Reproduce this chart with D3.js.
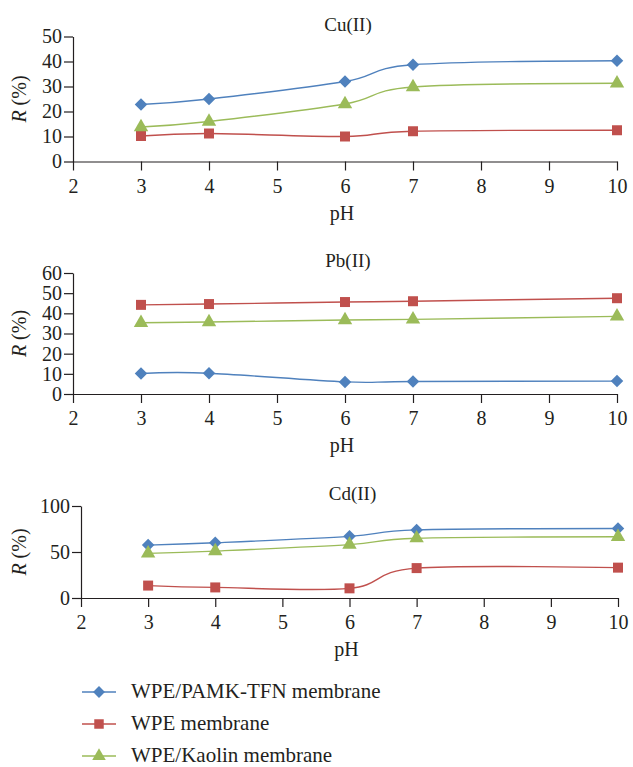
<!DOCTYPE html>
<html>
<head>
<meta charset="utf-8">
<script src="https://cdn.jsdelivr.net/npm/d3@7"></script>
<style>
  body { margin: 0; background: #fff; }
</style>
</head>
<body>
<div id="chart"></div>
<script>
// pH values (shared x)
const ph = [3, 4, 6, 7, 10];
const xTicks = [2, 3, 4, 5, 6, 7, 8, 9, 10];

// series names
const seriesNames = ['WPE/PAMK-TFN membrane', 'WPE membrane', 'WPE/Kaolin membrane'];

// Cu(II)
const cuTfn = [22.8, 25.0, 32.0, 38.7, 40.3];
const cuWpe = [10.2, 11.2, 10.0, 12.1, 12.5];
const cuKaolin = [13.8, 16.0, 23.0, 29.8, 31.3];

// Pb(II)
const pbTfn = [10.2, 10.3, 6.0, 6.2, 6.4];
const pbWpe = [44.2, 44.6, 45.6, 46.0, 47.5];
const pbKaolin = [35.3, 35.7, 36.7, 37.0, 38.5];

// Cd(II)
const cdTfn = [57.5, 60.0, 67.0, 74.0, 75.5];
const cdWpe = [13.5, 11.5, 10.5, 32.5, 33.0];
const cdKaolin = [48.5, 51.0, 58.0, 65.0, 66.5];

const colors = ['#4f81bd', '#c0504d', '#9bbb59'];
const shapes = [d3.symbolDiamond2, d3.symbolSquare, d3.symbolTriangle];
const font = '"Liberation Serif", "Times New Roman", "DejaVu Serif", serif';
const ink = '#231f20';

const width = 633, height = 767;
const svg = d3.select('#chart').append('svg')
    .attr('width', width)
    .attr('height', height)
    .attr('font-family', font);

const panels = [
  {title: 'Cu(II)', series: [cuTfn, cuWpe, cuKaolin], yMax: 50, yStep: 10, left: 73, right: 617, top: 36.5, bottom: 161.5},
  {title: 'Pb(II)', series: [pbTfn, pbWpe, pbKaolin], yMax: 60, yStep: 10, left: 73, right: 617, top: 273, bottom: 394},
  {title: 'Cd(II)', series: [cdTfn, cdWpe, cdKaolin], yMax: 100, yStep: 50, left: 81, right: 618, top: 506, bottom: 598}
];

panels.forEach(p => {
  const x = d3.scaleLinear().domain([2, 10]).range([p.left, p.right]);
  const y = d3.scaleLinear().domain([0, p.yMax]).range([p.bottom, p.top]);
  const g = svg.append('g');

  // title
  g.append('text')
    .attr('x', (p.left + p.right) / 2 + 3)
    .attr('y', p.top - 6)
    .attr('text-anchor', 'middle')
    .attr('font-family', font)
    .attr('font-size', 19)
    .attr('fill', ink)
    .text(p.title);

  // y axis
  const yAxis = d3.axisLeft(y)
      .tickValues(d3.range(0, p.yMax + 1, p.yStep))
      .tickSize(9).tickSizeOuter(0).tickPadding(2);
  const ya = g.append('g').attr('transform', 'translate(' + p.left + ',0)').call(yAxis)
      .attr('font-family', font).attr('font-size', 20);
  ya.select('.domain').attr('stroke', ink).attr('stroke-width', 1.2);
  ya.selectAll('line').attr('stroke', ink).attr('stroke-width', 1.2);
  ya.selectAll('text').attr('fill', ink);

  // x axis
  const xAxis = d3.axisBottom(x).tickValues(xTicks).tickSize(9).tickSizeOuter(0).tickPadding(8);
  const xa = g.append('g').attr('transform', 'translate(0,' + p.bottom + ')').call(xAxis)
      .attr('font-family', font).attr('font-size', 20);
  xa.select('.domain').attr('stroke', ink).attr('stroke-width', 1.2);
  xa.selectAll('line').attr('stroke', ink).attr('stroke-width', 1.2);
  xa.selectAll('text').attr('fill', ink);

  // axis titles
  g.append('text')
    .attr('x', (p.left + p.right) / 2 - 3)
    .attr('y', p.bottom + 58)
    .attr('text-anchor', 'middle')
    .attr('font-family', font)
    .attr('font-size', 20)
    .attr('fill', ink)
    .text('pH');

  const yl = g.append('text')
    .attr('transform', 'translate(26,' + ((p.top + p.bottom) / 2) + ') rotate(-90)')
    .attr('text-anchor', 'middle')
    .attr('font-family', font)
    .attr('font-size', 20)
    .attr('fill', ink);
  yl.append('tspan').attr('font-style', 'italic').text('R');
  yl.append('tspan').text(' (%)');

  // lines and markers
  const line = d3.line()
      .x((d, i) => x(ph[i]))
      .y(d => y(d))
      .curve(d3.curveCardinal.tension(0));

  p.series.forEach((s, si) => {
    g.append('path')
      .datum(s)
      .attr('d', line)
      .attr('fill', 'none')
      .attr('stroke', colors[si])
      .attr('stroke-width', 1.4);

    g.selectAll('.m' + si)
      .data(s)
      .enter()
      .append('path')
      .attr('class', 'm' + si)
      .attr('transform', (d, i) => 'translate(' + x(ph[i]) + ',' + y(d) + ')')
      .attr('d', d3.symbol().type(shapes[si]).size(si === 2 ? 90 : 100))
      .attr('fill', colors[si]);
  });
});

// legend
const legend = svg.append('g');
seriesNames.forEach((name, i) => {
  const ly = 692 + i * 32;
  legend.append('line')
    .attr('x1', 82).attr('x2', 116)
    .attr('y1', ly).attr('y2', ly)
    .attr('stroke', colors[i]).attr('stroke-width', 1.4);
  legend.append('path')
    .attr('transform', 'translate(99,' + ly + ')')
    .attr('d', d3.symbol().type(shapes[i]).size(i === 2 ? 80 : 90))
    .attr('fill', colors[i]);
  legend.append('text')
    .attr('x', 131).attr('y', ly + 6)
    .attr('font-family', font)
    .attr('font-size', 21)
    .attr('fill', ink)
    .text(name);
});
</script>
</body>
</html>
